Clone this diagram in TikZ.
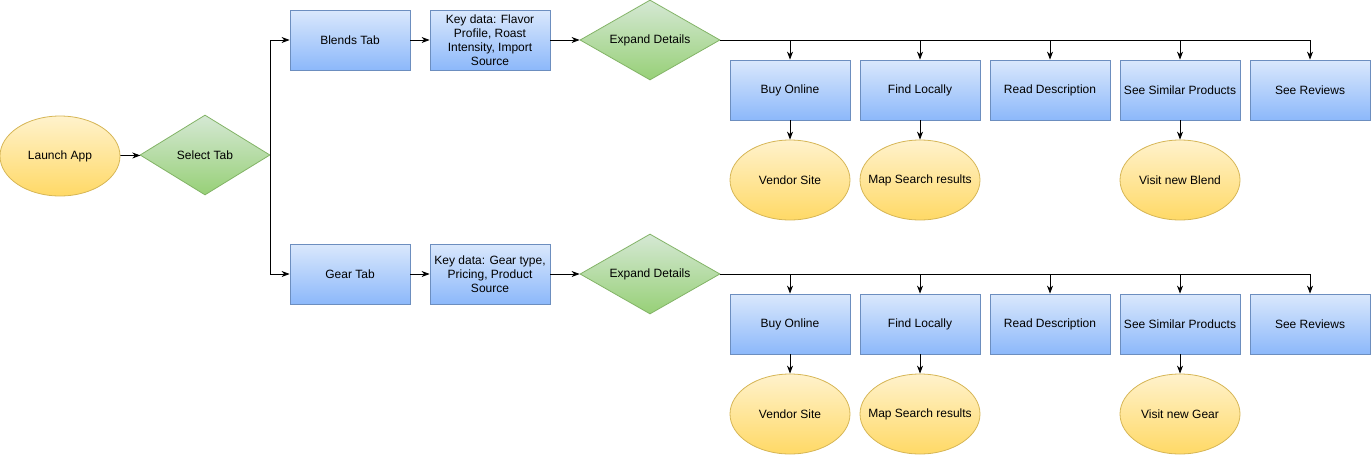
\documentclass[tikz,border=0pt]{standalone}
\usepackage{fontspec}
\setmainfont{Liberation Sans}
\usetikzlibrary{shapes.geometric,arrows.meta}
\definecolor{boxtop}{HTML}{DAE8FC}
\definecolor{boxbot}{HTML}{8CB8FA}
\definecolor{boxline}{HTML}{6C8EBF}
\definecolor{dectop}{HTML}{D5E8D4}
\definecolor{decbot}{HTML}{97D077}
\definecolor{decline}{HTML}{82B366}
\definecolor{endtop}{HTML}{FFF2CC}
\definecolor{endbot}{HTML}{FFD966}
\definecolor{endline}{HTML}{D6B656}
\tikzset{
  every node/.style={font=\fontsize{12}{14}\selectfont},
  stepbox/.style={draw=boxline, top color=boxtop, bottom color=boxbot, line width=0.8pt,
    minimum width=120pt, minimum height=60pt, inner sep=2pt, align=center},
  decision/.style={diamond, draw=decline, top color=dectop, bottom color=decbot, line width=0.8pt,
    minimum width=#1, minimum height=80pt, inner sep=0pt, aspect=1.7},
  endpoint/.style={ellipse, draw=endline, top color=endtop, bottom color=endbot, line width=0.8pt,
    minimum width=120pt, minimum height=80pt, inner xsep=-20pt, inner ysep=0pt},
  arr/.style={-{Stealth[length=8pt,width=6pt,inset=2.5pt]}, line width=0.8pt}
}
\begin{document}
\begin{tikzpicture}[x=1pt,y=-1pt]
        \useasboundingbox (0,0) rectangle (1372,455);

        \node (launch) at (60,156) [endpoint] {Launch App};
        \node (sel) at (205,155) [decision=130pt] {Select Tab};
        \draw[arr] (launch) -- (sel);

        \foreach \r/\y/\tab/\key/\item in {
            1/40/Blends Tab/{Key data: Flavor\\Profile, Roast\\Intensity, Import\\Source}/Blend,
            2/274/Gear Tab/{Key data: Gear type,\\Pricing, Product\\Source}/Gear}
        {
            \node (tab\r) at (350,\y) [stepbox] {\tab};
            \node (key\r) at (490,\y) [stepbox] {\key};
            \node (exp\r) at (650,\y) [decision=140pt] {Expand Details};

            \node (buy\r) at (790,\y+50) [stepbox] {Buy Online};
            \node (find\r) at (920,\y+50) [stepbox] {Find Locally};
            \node (read\r) at (1050,\y+50) [stepbox] {Read Description};
            \node (sim\r) at (1180,\y+50) [stepbox] {See Similar Products};
            \node (rev\r) at (1310,\y+50) [stepbox] {See Reviews};

            \node (vendor\r) at (790,\y+140) [endpoint] {Vendor Site};
            \node (map\r) at (920,\y+140) [endpoint] {Map Search results};
            \node (visit\r) at (1180,\y+140) [endpoint] {Visit new \item};

            \draw[arr] (sel.east) |- (tab\r.west);
            \draw[arr] (tab\r) -- (key\r);
            \draw[arr] (key\r) -- (exp\r);
            \foreach \o in {buy,find,read,sim,rev}
                \draw[arr] (exp\r.east) -| (\o\r.north);
            \draw[arr] (buy\r) -- (vendor\r);
            \draw[arr] (find\r) -- (map\r);
            \draw[arr] (sim\r) -- (visit\r);
        }
\end{tikzpicture}
\end{document}
